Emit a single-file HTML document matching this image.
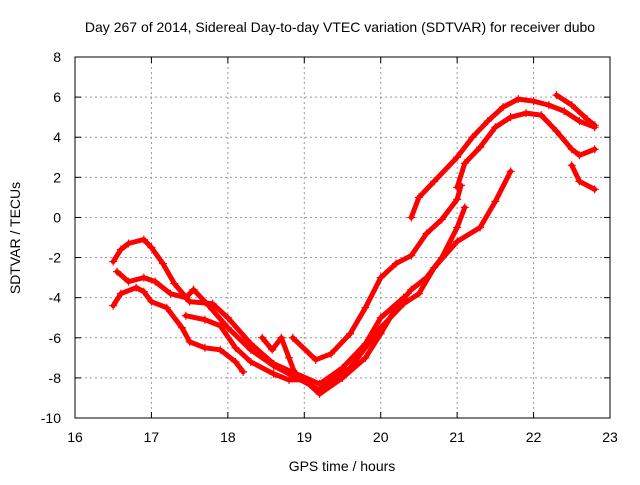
<!DOCTYPE html>
<html><head><meta charset="utf-8"><style>
body{margin:0;background:#fff}
svg text{font-family:"Liberation Sans",sans-serif;font-size:14px;fill:#000}
</style></head><body>
<svg width="640" height="480" id="chart">
<text x="340" y="32" text-anchor="middle">Day 267 of 2014, Sidereal Day-to-day VTEC variation (SDTVAR) for receiver dubo</text>
<text x="342" y="471" text-anchor="middle">GPS time / hours</text>
<text transform="translate(20,238) rotate(-90)" text-anchor="middle">SDTVAR / TECUs</text>
<g id="grid"></g><g id="series"></g>
<rect x="75" y="57" width="535" height="361" fill="none" stroke="#000"/>
<g id="ticks"></g>
</svg>
<script>
const xTicks=[16,17,18,19,20,21,22,23];
const yTicks=[-10,-8,-6,-4,-2,0,2,4,6,8];
const trackA=[[16.5,-2.2],[16.6,-1.6],[16.7,-1.3],[16.9,-1.1],[17.0,-1.5],[17.15,-2.3],[17.3,-3.3],[17.5,-4.2],[17.8,-4.3],[18.0,-5.0],[18.3,-6.3],[18.6,-7.3],[18.9,-7.8],[19.2,-8.3],[19.5,-7.5],[19.8,-6.3],[20.0,-5.0],[20.3,-4.0]];
const trackB=[[16.55,-2.7],[16.7,-3.2],[16.9,-3.0],[17.05,-3.2],[17.25,-3.8],[17.45,-4.0],[17.55,-3.6],[17.75,-4.4],[18.0,-5.5],[18.3,-6.6],[18.6,-7.4],[18.9,-8.0],[19.2,-8.6],[19.6,-7.5],[20.0,-5.5],[20.3,-4.3],[20.5,-3.8],[20.7,-2.5],[21.0,-1.2],[21.3,-0.5],[21.5,0.8],[21.7,2.3]];
const trackC=[[16.5,-4.4],[16.6,-3.8],[16.8,-3.5],[16.9,-3.7],[17.0,-4.2],[17.2,-4.5],[17.4,-5.5],[17.5,-6.2],[17.7,-6.5],[17.9,-6.6],[18.1,-7.2],[18.2,-7.7]];
const trackD=[[17.45,-4.9],[17.7,-5.1],[17.9,-5.4],[18.1,-6.5],[18.3,-7.2],[18.6,-7.8],[18.8,-8.1],[19.0,-8.1],[19.2,-8.8],[19.5,-8.0],[19.8,-7.0],[20.0,-5.8],[20.2,-4.5],[20.4,-3.6],[20.6,-3.0],[20.8,-2.0],[21.0,-0.5],[21.1,0.5]];
const trackE=[[18.45,-6.0],[18.58,-6.6],[18.7,-6.0],[18.8,-7.0],[18.9,-8.0]];
const trackF=[[18.85,-6.0],[19.15,-7.1],[19.35,-6.8],[19.6,-5.8],[19.8,-4.5],[20.0,-3.0],[20.2,-2.3],[20.4,-1.9],[20.6,-0.8],[20.8,-0.1],[21.0,0.9],[21.05,1.6]];
const trackG=[[20.4,0.0],[20.5,1.0],[20.7,1.8],[21.0,3.0],[21.2,4.0],[21.4,4.8],[21.6,5.5],[21.8,5.9],[22.0,5.8],[22.2,5.6],[22.4,5.3],[22.6,4.8],[22.8,4.5]];
const trackH=[[21.0,1.5],[21.1,2.7],[21.3,3.5],[21.5,4.5],[21.7,5.0],[21.9,5.2],[22.1,5.1],[22.3,4.3],[22.5,3.4],[22.6,3.1],[22.8,3.4]];
const trackI=[[22.5,2.6],[22.6,1.8],[22.8,1.4]];
const trackJ=[[22.3,6.1],[22.5,5.6],[22.7,4.9],[22.8,4.6]];
const tracks=[trackA,trackB,trackC,trackD,trackE,trackF,trackG,trackH,trackI,trackJ];
const NS='http://www.w3.org/2000/svg';
const sx=v=>75+(v-16)*535/7, sy=v=>418-(v+10)*361/18;
const grid=document.getElementById('grid'),ticks=document.getElementById('ticks'),ser=document.getElementById('series');
function mk(t,a,p){const e=document.createElementNS(NS,t);for(const k in a)e.setAttribute(k,a[k]);p.appendChild(e);return e;}
xTicks.forEach(v=>{const x=sx(v);
 if(v>16&&v<23){const g=mk('line',{x1:x,x2:x,y1:57,y2:418,stroke:'#999','stroke-dasharray':'2,3'},grid);
 
 }
 mk('line',{x1:x,x2:x,y1:418,y2:412,stroke:'#000'},ticks);mk('line',{x1:x,x2:x,y1:57,y2:63,stroke:'#000'},ticks);
 const t=mk('text',{x:x,y:442,'text-anchor':'middle'},ticks);t.textContent=v;
 
 });
yTicks.forEach(v=>{const y=sy(v);
 if(v>-10&&v<8){const g=mk('line',{x1:75,x2:610,y1:y,y2:y,stroke:'#999','stroke-dasharray':'2,3'},grid);
 
 }
 mk('line',{x1:75,x2:81,y1:y,y2:y,stroke:'#000'},ticks);mk('line',{x1:610,x2:604,y1:y,y2:y,stroke:'#000'},ticks);
 const t=mk('text',{x:61,y:y+5,'text-anchor':'end'},ticks);t.textContent=v;
 
 });
tracks.forEach((tr,i)=>{
 const g=mk('g',{},ser);
 
 
 mk('polyline',{points:tr.map(p=>sx(p[0])+','+sy(p[1])).join(' '),fill:'none',stroke:'#f00','stroke-width':5,'stroke-linejoin':'round','stroke-linecap':'round'},g);
 tr.forEach(p=>{const x=sx(p[0]),y=sy(p[1]);
  mk('path',{d:`M${x-4},${y}H${x+4}M${x},${y-4}V${y+4}`,stroke:'#f00','stroke-width':1.2},g);});
});
</script>
</body></html>
